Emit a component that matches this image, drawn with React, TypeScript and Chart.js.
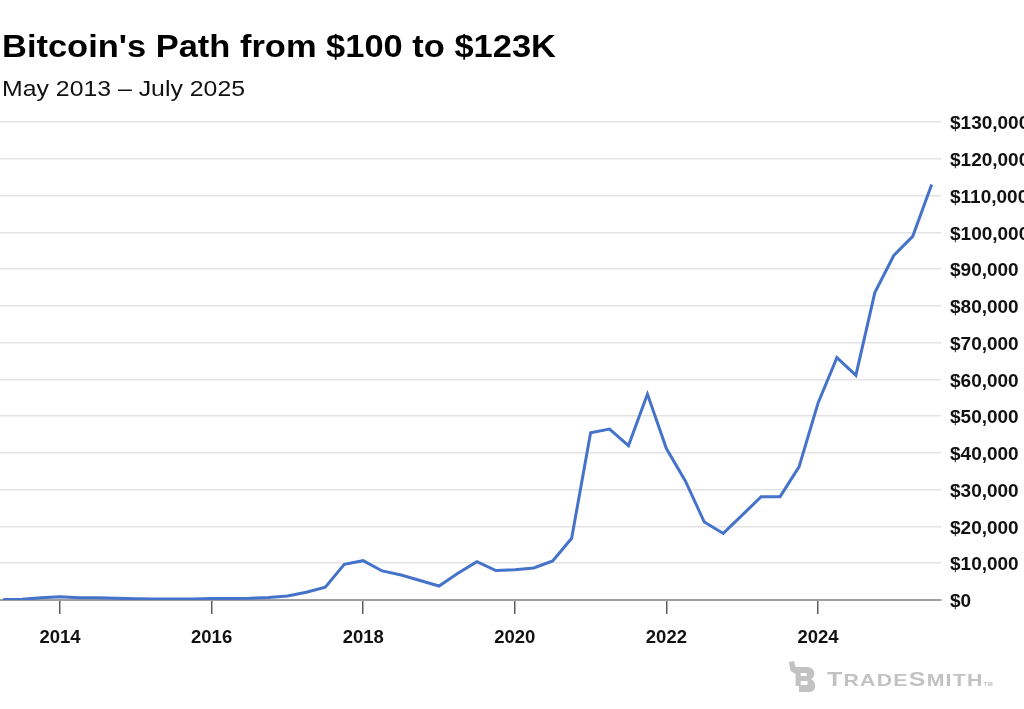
import React, { useEffect, useRef } from "react";
import { Chart, registerables } from "chart.js";

Chart.register(...registerables);

const TITLE = "Bitcoin's Path from $100 to $123K";
const SUBTITLE = "May 2013 – July 2025";

const DATES = [
  "2013-04", "2013-07", "2013-10",
  "2014-01", "2014-04", "2014-07", "2014-10",
  "2015-01", "2015-04", "2015-07", "2015-10",
  "2016-01", "2016-04", "2016-07", "2016-10",
  "2017-01", "2017-04", "2017-07", "2017-10",
  "2018-01", "2018-04", "2018-07", "2018-10",
  "2019-01", "2019-04", "2019-07", "2019-10",
  "2020-01", "2020-04", "2020-07", "2020-10",
  "2021-01", "2021-04", "2021-07", "2021-10",
  "2022-01", "2022-04", "2022-07", "2022-10",
  "2023-01", "2023-04", "2023-07", "2023-10",
  "2024-01", "2024-04", "2024-07", "2024-10",
  "2025-01", "2025-04", "2025-07",
];

const PRICES = [
  110, 200, 600,
  900, 600, 620, 450,
  320, 250, 260, 300,
  420, 440, 450, 700,
  1100, 2100, 3500, 9700,
  10700, 7900, 6800, 5300,
  3800, 7300, 10400, 8000,
  8200, 8700, 10600, 16800,
  45500, 46500, 42000, 56000,
  41200, 32400, 21200, 18100,
  23100, 28100, 28100, 36200,
  53500, 65900, 61100, 83600,
  93700, 98900, 113000,
];

const X_TICKS = [2014, 2016, 2018, 2020, 2022, 2024];
const X_MIN = 2013.208;
const X_MAX = 2025.623;
const Y_MIN = 0;
const Y_MAX = 130000;
const Y_STEP = 10000;

const toYear = (d: string) => {
  const [y, m] = d.split("-").map(Number);
  return y + (m - 1) / 12;
};

const FONT = "'Liberation Sans', Arial, Helvetica, sans-serif";

export default function App() {
  const ref = useRef<HTMLCanvasElement | null>(null);

  useEffect(() => {
    if (!ref.current) return;
    const data = DATES.map((d, i) => ({ x: toYear(d), y: PRICES[i] }));
    const chart = new Chart(ref.current, {
      type: "line",
      data: {
        datasets: [
          {
            data,
            borderColor: "#4573c9",
            borderWidth: 3,
            pointRadius: 0,
            tension: 0,
            fill: false,
          },
        ],
      },
      options: {
        animation: false,
        responsive: false,
        devicePixelRatio: 1,
        layout: { padding: { top: 122, left: 0, right: 0, bottom: 0 } },
        plugins: {
          legend: { display: false },
          tooltip: { enabled: false },
          title: { display: false },
        },
        scales: {
          x: {
            type: "linear",
            min: X_MIN,
            max: X_MAX,
            afterBuildTicks: (scale: any) => {
              scale.ticks = X_TICKS.map((v) => ({ value: v }));
            },
            afterFit: (scale: any) => {
              scale.height = 109;
            },
            grid: {
              drawOnChartArea: false,
              drawTicks: true,
              tickLength: 14,
              color: "#5c5c5c",
              lineWidth: 1.5,
            },
            border: { display: true, color: "#9c9fa3", width: 2 },
            ticks: {
              autoSkip: false,
              maxRotation: 0,
              padding: 13,
              color: "#111",
              font: { family: FONT, size: 18.5, weight: "bold" },
              callback: (v: any) => String(v),
            },
          },
          y: {
            position: "right",
            min: Y_MIN,
            max: Y_MAX,
            afterFit: (scale: any) => {
              scale.width = 83;
            },
            grid: {
              drawTicks: false,
              color: (ctx: any) =>
                ctx.tick && ctx.tick.value === 0 ? "rgba(0,0,0,0)" : "#e3e3e3",
              lineWidth: 1.5,
            },
            border: { display: false },
            ticks: {
              stepSize: Y_STEP,
              padding: 9,
              labelOffset: 2,
              color: "#111",
              font: { family: FONT, size: 19, weight: "bold" },
              callback: (v: any) => "$" + Number(v).toLocaleString("en-US"),
            },
          },
        },
      },
    } as any);
    return () => chart.destroy();
  }, []);

  return (
    <div
      style={{
        position: "absolute",
        left: 0,
        top: 0,
        width: 1024,
        height: 709,
        overflow: "hidden",
        background: "#fff",
        fontFamily: FONT,
      }}
    >
      <canvas
        ref={ref}
        width={1024}
        height={709}
        style={{ position: "absolute", left: 0, top: 0, width: 1024, height: 709 }}
      />
      <div
        style={{
          position: "absolute",
          left: 2,
          top: 30.6,
          fontSize: 31.5,
          lineHeight: 1,
          fontWeight: "bold",
          color: "#000",
          whiteSpace: "nowrap",
          transform: "scaleX(1.094)",
          transformOrigin: "left top",
        }}
      >
        {TITLE}
      </div>
      <div
        style={{
          position: "absolute",
          left: 2,
          top: 78,
          fontSize: 22,
          lineHeight: 1,
          color: "#111",
          whiteSpace: "nowrap",
          transform: "scaleX(1.129)",
          transformOrigin: "left top",
        }}
      >
        {SUBTITLE}
      </div>
      <svg
        width={28}
        height={31}
        viewBox="0 0 33 31"
        preserveAspectRatio="none"
        style={{ position: "absolute", left: 788, top: 661 }}
      >
        <path
          d="M1 1 L7 0 L9 6 L22 6 Q31 6 31 13 Q31 17 27 18 Q32 20 32 25 Q32 31 24 31 L13 31 L13 25 L9 25 L9 13 L3 10 Z"
          fill="#c2c2c2"
        />
        <path d="M15 12 L22 12 L22 15 L15 15 Z M15 20 L23 20 L23 24 L15 24 Z" fill="#ffffff" />
      </svg>
      <div
        style={{
          position: "absolute",
          left: 827,
          top: 669,
          fontSize: 20,
          lineHeight: "20px",
          fontWeight: "bold",
          color: "#c2c2c2",
          whiteSpace: "nowrap",
          letterSpacing: 1,
          transform: "scaleX(1.25)",
          transformOrigin: "left top",
        }}
      >
        <span style={{ fontSize: 20 }}>T</span>
        <span style={{ fontSize: 17 }}>RADE</span>
        <span style={{ fontSize: 20 }}>S</span>
        <span style={{ fontSize: 17 }}>MITH</span>
        <span style={{ fontSize: 5, letterSpacing: 0 }}>TM</span>
      </div>
    </div>
  );
}
